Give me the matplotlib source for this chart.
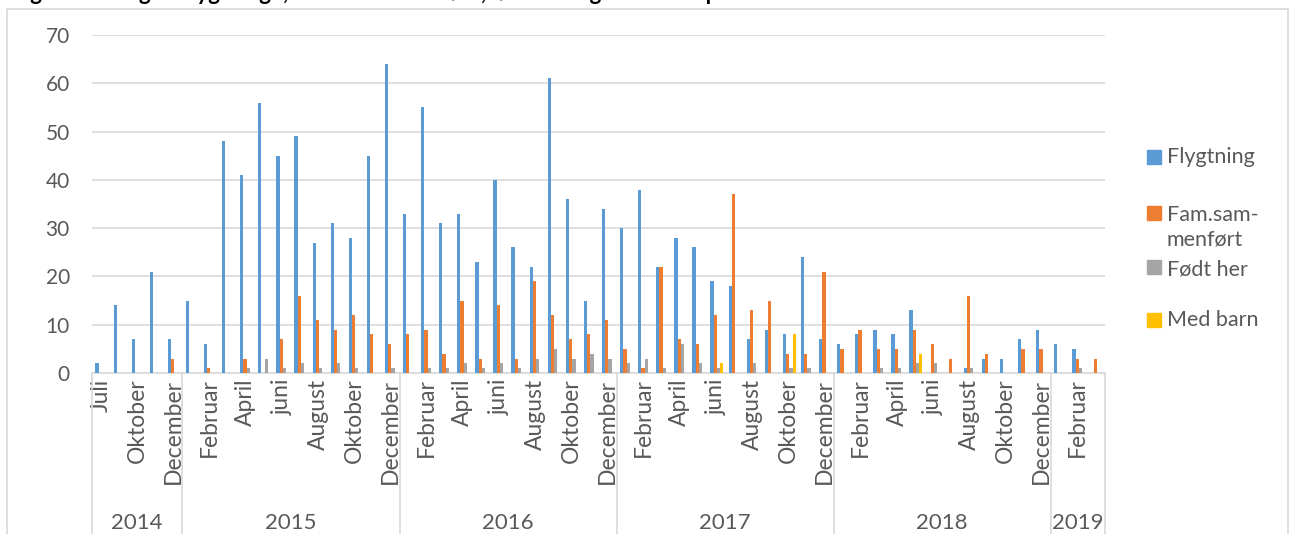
import numpy as np
import matplotlib
matplotlib.use("Agg")
import matplotlib.pyplot as plt
import matplotlib.transforms as mtransforms
from matplotlib.patches import Rectangle

plt.rcParams["font.family"] = ["Lato", "DejaVu Sans"]

# maaneder jul 2014 - mar 2019 (september 2014 mangler)
months = (["Juli", "August", "Oktober", "November", "December"]
          + ["Januar", "Februar", "Marts", "April", "Maj", "juni", "Juli",
             "August", "September", "Oktober", "November", "December"] * 4
          + ["Januar", "Februar", "Marts"])
years = ["2014", "2015", "2016", "2017", "2018", "2019"]
months_per_year = [5, 12, 12, 12, 12, 3]

flygtning = [2, 14, 7, 21, 7,
             15, 6, 48, 41, 56, 45, 49, 27, 31, 28, 45, 64,
             33, 55, 31, 33, 23, 40, 26, 22, 61, 36, 15, 34,
             30, 38, 22, 28, 26, 19, 18, 7, 9, 8, 24, 7,
             6, 8, 9, 8, 13, 0, 0, 1, 3, 3, 7, 9,
             6, 5, 0]
fam_sammenfort = [0, 0, 0, 0, 3,
                  0, 1, 0, 3, 0, 7, 16, 11, 9, 12, 8, 6,
                  8, 9, 4, 15, 3, 14, 3, 19, 12, 7, 8, 11,
                  5, 1, 22, 7, 6, 12, 37, 13, 15, 4, 4, 21,
                  5, 9, 5, 5, 9, 6, 3, 16, 4, 0, 5, 5,
                  0, 3, 3]
fodt_her = [0, 0, 0, 0, 0,
            0, 0, 0, 1, 3, 1, 2, 1, 2, 1, 0, 1,
            0, 1, 1, 2, 1, 2, 1, 3, 5, 3, 4, 3,
            2, 3, 1, 6, 2, 1, 0, 2, 0, 1, 1, 0,
            0, 0, 1, 1, 2, 2, 0, 1, 0, 0, 0, 0,
            0, 1, 0]
med_barn = [0, 0, 0, 0, 0,
            0, 0, 0, 0, 0, 0, 0, 0, 0, 0, 0, 0,
            0, 0, 0, 0, 0, 0, 0, 0, 0, 0, 0, 0,
            0, 0, 0, 0, 0, 2, 0, 0, 0, 8, 0, 0,
            0, 0, 0, 0, 4, 0, 0, 0, 0, 0, 0, 0,
            0, 0, 0]

series = [("Flygtning", flygtning, "#5B9BD5"),
          ("Fam.sam-\nmenført", fam_sammenfort, "#ED7D31"),
          ("Født her", fodt_her, "#A5A5A5"),
          ("Med barn", med_barn, "#FFC000")]

W, H = 1293, 534
txt = "#595959"
grid = "#D9D9D9"

fig = plt.figure(figsize=(W / 100, H / 100), dpi=100)
ax = fig.add_axes([92 / W, 1 - 373 / H, 1013 / W, 338 / H])

x = np.arange(len(months))
w = 0.18
for i, (name, vals, col) in enumerate(series):
    ax.bar(x + (i - 1.5) * w + 0.05, vals, width=w, color=col, zorder=3)

ax.set_xlim(-0.5, len(months) - 0.5)
ax.set_ylim(0, 70)
ax.set_yticks(range(0, 71, 10))
ax.yaxis.grid(True, color=grid, linewidth=1.2)
ax.set_axisbelow(True)
for s in ["top", "right", "left"]:
    ax.spines[s].set_visible(False)
ax.spines["bottom"].set_color(grid)
ax.spines["bottom"].set_linewidth(1.2)
ax.tick_params(axis="y", length=0, pad=16, labelsize=15, labelcolor=txt)
ax.set_xticks(x[::2])
ax.set_xticklabels(months[::2], rotation=90, va="top", fontsize=16.5, color=txt)
ax.tick_params(axis="x", length=0, pad=4)

# aarstal og skillelinjer under aksen
trans = mtransforms.blended_transform_factory(ax.transData, ax.transAxes)
start = -0.5
ax.plot([start, start], [0, -0.5], color=grid, lw=1.2, transform=trans, clip_on=False)
for yr, n in zip(years, months_per_year):
    end = start + n
    ax.plot([end, end], [0, -0.5], color=grid, lw=1.2, transform=trans, clip_on=False)
    ax.text((start + end) / 2, -0.445, yr, transform=trans, ha="center", va="center",
            fontsize=16, color=txt)
    start = end

# legend til hoejre
leg_y = [157, 227, 269, 320]
sq_y = [157, 213, 267, 320]
for (name, vals, col), ty, sy in zip(series, leg_y, sq_y):
    fig.add_artist(Rectangle((1147 / W, 1 - (sy + 7) / H), 14 / W, 14 / H,
                             transform=fig.transFigure, color=col))
    fig.text(1167 / W, 1 - ty / H, name, ha="left", va="center", fontsize=15.5,
             color=txt, linespacing=1.3)

# ramme om diagrammet
fig.add_artist(Rectangle((7 / W, -0.1), 1281 / W, 1.1 - 9 / H, transform=fig.transFigure,
                         fill=False, edgecolor=grid, lw=1.2))

# overskriften er skaaret af i originalen, kun underkanten ses
fig.text(12 / W, 1.0, "Figur 4: Kategori flygtninge, familiesammenført, født her og med barn pr. måned",
         ha="left", va="baseline", fontsize=16, fontweight="bold", color="black")

fig.savefig("out.png", dpi=100)
